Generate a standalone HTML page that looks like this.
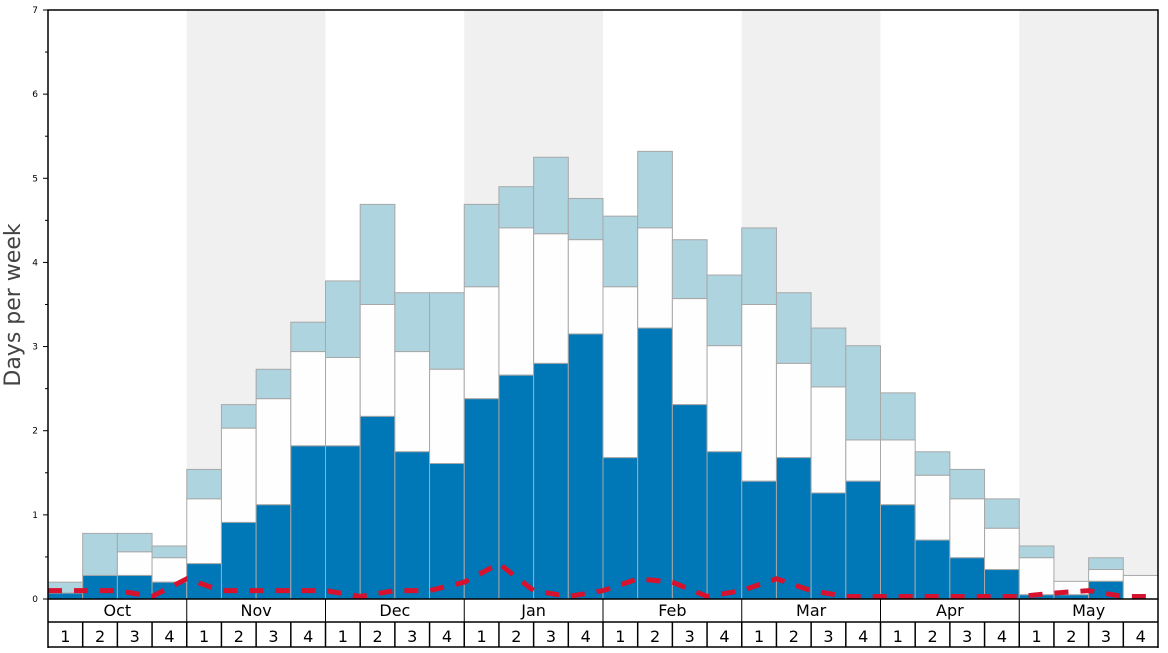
<!DOCTYPE html>
<html><head><meta charset="utf-8"><style>
body{margin:0;background:#fff;font-family:"Liberation Sans","DejaVu Sans",sans-serif}
</style></head><body>
<svg id="chart" width="1168" height="648" xmlns="http://www.w3.org/2000/svg" font-family="DejaVu Sans, Liberation Sans, sans-serif"></svg>
<script>
const months=["Oct","Nov","Dec","Jan","Feb","Mar","Apr","May"];
const weekLabels=["1","2","3","4"];
const darkVals=[0.07,0.28,0.28,0.2,0.42,0.91,1.12,1.82,1.82,2.17,1.75,1.61,2.38,2.66,2.8,3.15,1.68,3.22,2.31,1.75,1.4,1.68,1.26,1.4,1.12,0.7,0.49,0.35,0.05,0.05,0.21,0];
const whiteTop=[0.07,0.28,0.56,0.49,1.19,2.03,2.38,2.94,2.87,3.5,2.94,2.73,3.71,4.41,4.34,4.27,3.71,4.41,3.57,3.01,3.5,2.8,2.52,1.89,1.89,1.47,1.19,0.84,0.49,0.21,0.35,0.28];
const lightTop=[0.2,0.78,0.78,0.63,1.54,2.31,2.73,3.29,3.78,4.69,3.64,3.64,4.69,4.9,5.25,4.76,4.55,5.32,4.27,3.85,4.41,3.64,3.22,3.01,2.45,1.75,1.54,1.19,0.63,0.21,0.49,0.28];
const lineVals=[0.1,0.1,0.1,0.03,0.24,0.1,0.1,0.1,0.1,0.03,0.1,0.1,0.2,0.42,0.1,0.03,0.1,0.24,0.2,0.03,0.1,0.24,0.1,0.03,0.03,0.03,0.03,0.03,0.03,0.07,0.1,0.03,0.03];
const yTicks=[0,1,2,3,4,5,6,7];
const svg=document.getElementById('chart');
const NS="http://www.w3.org/2000/svg";
const X0=48,X1=1158,Y0=599,Y1=10,N=darkVals.length,W=(X1-X0)/N;
const x=i=>X0+i*W;
const y=v=>Y0-(v/7)*(Y0-Y1);
function mk(t,a,p){const e=document.createElementNS(NS,t);for(const k in a)e.setAttribute(k,a[k]);(p||svg).appendChild(e);return e;}
// shading
months.forEach((m,i)=>{if(i%2===1){const r=mk('rect',{x:x(i*4),y:Y1,width:4*W,height:Y0-Y1,fill:'#f0f0f0'});

}});
// bars
for(let i=0;i<N;i++){
  const g=mk('g',{});
  
  
  if(lightTop[i]>whiteTop[i]) mk('rect',{x:x(i),y:y(lightTop[i]),width:W,height:y(whiteTop[i])-y(lightTop[i]),fill:'#aed4e0',stroke:'#a8a8a8','stroke-width':1},g);
  if(whiteTop[i]>darkVals[i]) mk('rect',{x:x(i),y:y(whiteTop[i]),width:W,height:y(darkVals[i])-y(whiteTop[i]),fill:'#fefefe',stroke:'#a8a8a8','stroke-width':1},g);
  if(darkVals[i]>0) mk('rect',{x:x(i),y:y(darkVals[i]),width:W,height:Y0-y(darkVals[i]),fill:'#0077b6',stroke:'#a8a8a8','stroke-width':1},g);
}
// red line
const pts=lineVals.map((v,i)=>x(i)+','+y(v)).join(' ');
const pl=mk('polyline',{points:pts,fill:'none',stroke:'#d7122e','stroke-width':5,'stroke-dasharray':'14,12'});


// frame
const fr=mk('rect',{x:X0,y:Y1,width:X1-X0,height:Y0-Y1,fill:'none',stroke:'#000','stroke-width':1.5});


// y ticks
yTicks.forEach(t=>{
  mk('line',{x1:X0-5,x2:X0,y1:y(t),y2:y(t),stroke:'#000'});
  if(t<7) mk('line',{x1:X0-3,x2:X0,y1:y(t+0.5),y2:y(t+0.5),stroke:'#000'});
  const tx=mk('text',{x:X0-10,y:y(t)+3,'font-size':9,'text-anchor':'end'});tx.textContent=t;
  
  
});
const yt=mk('text',{x:20,y:305,'font-size':22,fill:'#444','text-anchor':'middle',transform:'rotate(-90 20 305)'});
yt.textContent='Days per week';


// month/week rows
mk('line',{x1:X0,x2:X1,y1:622,y2:622,stroke:'#000','stroke-width':1.5});
mk('line',{x1:X0,x2:X1,y1:647,y2:647,stroke:'#000','stroke-width':1.5});
mk('line',{x1:X0,x2:X0,y1:Y0,y2:648,stroke:'#000','stroke-width':1.5});
mk('line',{x1:X1,x2:X1,y1:Y0,y2:648,stroke:'#000','stroke-width':1.5});
months.forEach((m,i)=>{
  if(i>0) mk('line',{x1:x(i*4),x2:x(i*4),y1:Y0,y2:622,stroke:'#000'});
  const t=mk('text',{x:x(i*4)+2*W,y:616,'font-size':16,'text-anchor':'middle'});t.textContent=m;
  
  
});
for(let i=0;i<N;i++){
  if(i>0) mk('line',{x1:x(i),x2:x(i),y1:622,y2:647,stroke:'#000','stroke-width':1.5});
  const t=mk('text',{x:x(i)+W/2,y:642,'font-size':16,'text-anchor':'middle'});t.textContent=weekLabels[i%4];
  
  
}
</script>
</body></html>
